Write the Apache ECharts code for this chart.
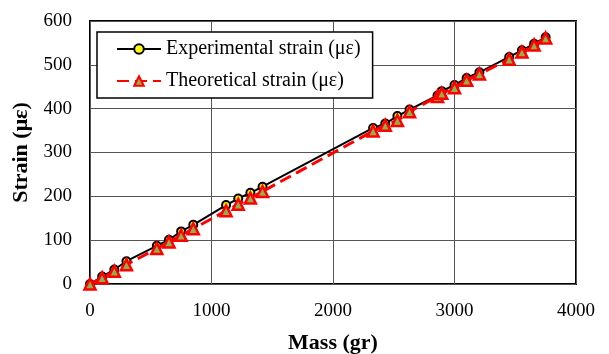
<!DOCTYPE html>
<html>
<head>
<meta charset="utf-8">
<script src="https://cdn.jsdelivr.net/npm/echarts@6/dist/echarts.min.js"></script>
<style>
  html, body { margin: 0; padding: 0; background: #fff; }
  #chart { width: 609px; height: 354px; }
</style>
</head>
<body>
<div id="chart"></div>
<script>
// mass (gr) / strain (με)
const expMass = [0, 100, 200, 300, 550, 650, 750, 850, 1120, 1220, 1320, 1420, 2330, 2430, 2530, 2630, 2860, 2895, 3000, 3100, 3205, 3450, 3555, 3655, 3750];
const expStrain = [0, 17, 33, 52, 87, 101, 120, 135, 180, 195, 208, 222, 356, 366, 383, 398, 430, 440, 454, 470, 483, 518, 533, 548, 563];
const theoMass = [0, 100, 200, 300, 550, 650, 750, 850, 1120, 1220, 1320, 1420, 2330, 2430, 2530, 2630, 2860, 2895, 3000, 3100, 3205, 3450, 3555, 3655, 3750];
const theoStrain = [0, 14, 29, 44, 81, 96, 111, 126, 167, 182, 196, 211, 349, 362, 373, 393, 428, 435, 448, 465, 479, 513, 529, 545, 561];

const serif = "'Liberation Serif', 'DejaVu Serif', serif";

const chart = echarts.init(document.getElementById("chart"));

const option = {
  animation: false,
  grid: {
    left: 90,
    top: 21,
    width: 486,
    height: 263,
    containLabel: false,
    outerBoundsMode: "none",
    show: true,
    borderColor: "#000",
    borderWidth: 2,
  },
  legend: {
    orient: "vertical",
    left: 97,
    top: 32,
    backgroundColor: "#fff",
    borderColor: "#000",
    borderWidth: 1.5,
    padding: [7, 12, 7, 19],
    itemGap: 12,
    itemWidth: 44,
    itemHeight: 12,
    textStyle: {
      fontFamily: serif,
      fontSize: 20,
      color: "#000",
    },
    data: ["Experimental strain (με)", "Theoretical strain (με)"],
  },
  xAxis: {
    type: "value",
    min: 0,
    max: 4000,
    interval: 1000,
    name: "Mass (gr)",
    nameLocation: "middle",
    nameGap: 48,
    nameTextStyle: {
      fontFamily: serif,
      fontSize: 22,
      fontWeight: "bold",
      color: "#000",
    },
    axisLine: { show: false },
    axisTick: { show: false },
    axisLabel: {
      fontFamily: serif,
      fontSize: 19,
      color: "#000",
      margin: 18,
      formatter: (v) => String(v),
    },
    splitLine: { lineStyle: { color: "#555", width: 1 } },
  },
  yAxis: {
    type: "value",
    min: 0,
    max: 600,
    interval: 100,
    name: "Strain (με)",
    nameLocation: "middle",
    nameGap: 50,
    nameTextStyle: {
      fontFamily: serif,
      fontSize: 22,
      fontWeight: "bold",
      color: "#000",
    },
    axisLine: { show: false },
    axisTick: { show: false },
    axisLabel: {
      fontFamily: serif,
      fontSize: 19,
      color: "#000",
      margin: 18,
    },
    splitLine: { lineStyle: { color: "#555", width: 1 } },
  },
  series: [
    {
      name: "Experimental strain (με)",
      type: "line",
      data: expMass.map((m, i) => [m, expStrain[i]]),
      symbol: "circle",
      symbolSize: 8,
      lineStyle: { color: "#000", width: 2 },
      itemStyle: { color: "#ffff00", borderColor: "#000", borderWidth: 2 },
      z: 2,
    },
    {
      name: "Theoretical strain (με)",
      type: "line",
      data: theoMass.map((m, i) => [m, theoStrain[i]]),
      symbol: "triangle",
      symbolSize: 11,
      lineStyle: { color: "#ff0000", width: 3, type: [12, 6] },
      itemStyle: { color: "#8fb04a", borderColor: "#ff0000", borderWidth: 2.5 },
      z: 3,
    },
  ],
};

chart.setOption(option);
</script>
</body>
</html>
